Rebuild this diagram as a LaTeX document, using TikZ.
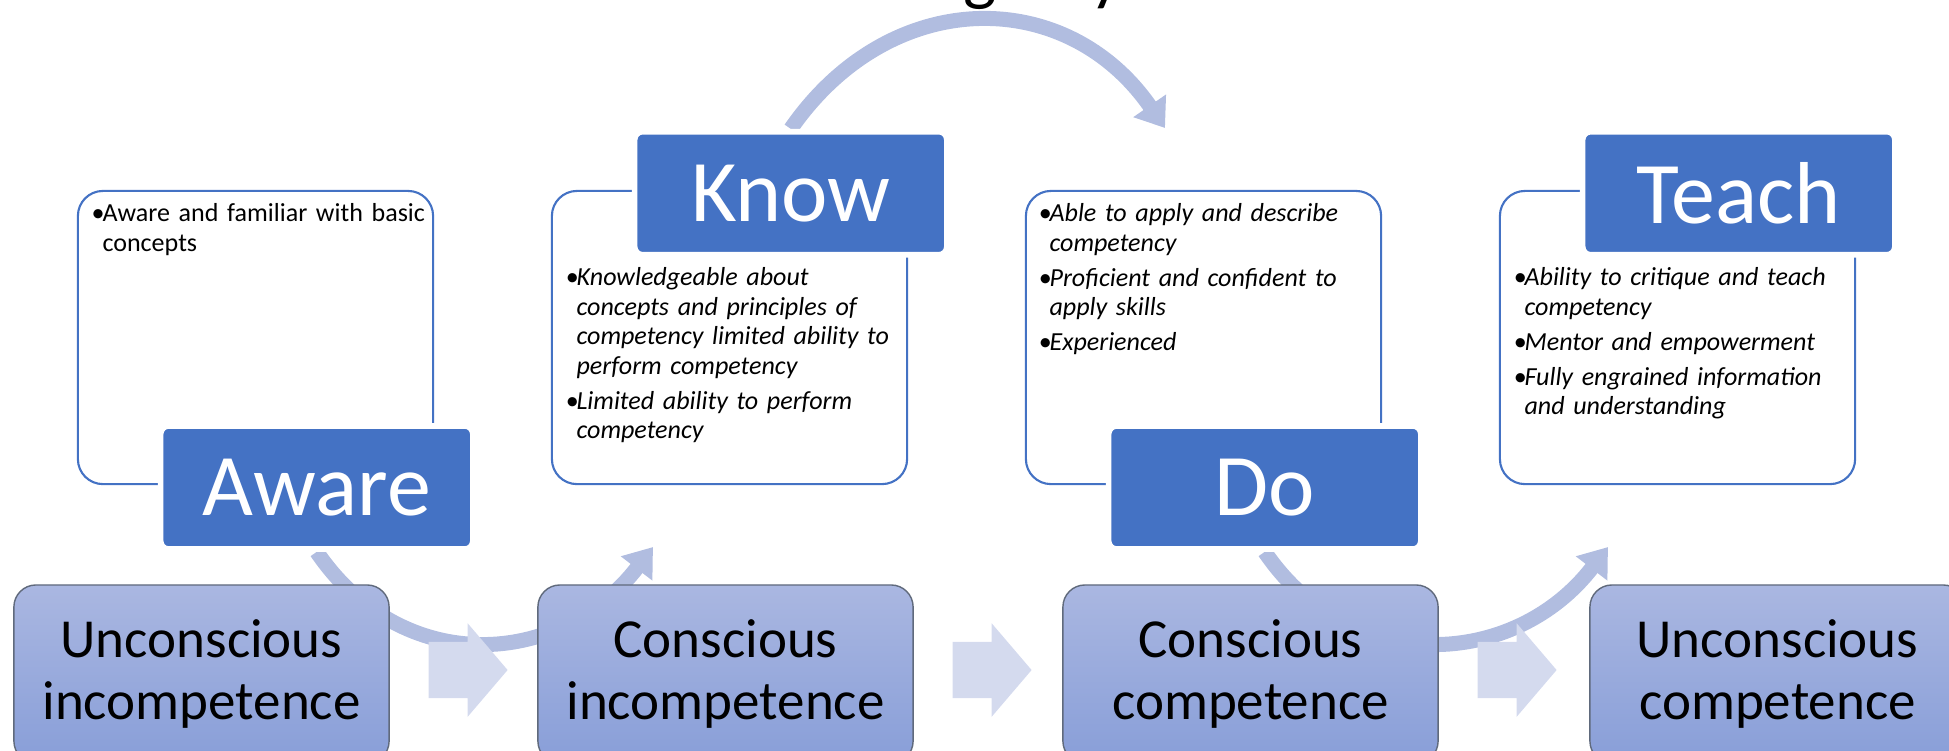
\documentclass[tikz,border=0pt]{standalone}
\usepackage{fontspec}
\setmainfont{Carlito}
\usetikzlibrary{positioning, calc, shapes.arrows, arrows.meta}

\definecolor{headblue}{HTML}{4472C4}
\definecolor{arcblue}{RGB}{177,189,224}
\definecolor{arrowpale}{RGB}{212,218,238}
\definecolor{stagetop}{RGB}{170,183,225}
\definecolor{stagebot}{RGB}{136,158,216}
\definecolor{stageline}{RGB}{96,106,124}

\pgfdeclarelayer{background}
\pgfsetlayers{background,main}

\newcommand\bulletitem[1]{\hangindent=0.11cm\hangafter=1\noindent\makebox[0.11cm][l]{\textbullet}#1\setlength\parskip{1.56pt}\par}

\begin{document}
\begin{tikzpicture}[x=0.01cm, y=-0.01cm]
  \tikzset{textbox/.style={draw=headblue, line width=0.6pt, rounded corners=0.25cm, minimum width=3.55cm, minimum height=2.93cm}}
  \tikzset{headbox/.style={fill=headblue, draw=white, line width=1.6pt, rounded corners=0.08cm, minimum width=3.12cm, minimum height=1.23cm, inner sep=0pt, text=white, font=\fontsize{25}{30}\selectfont}}
  \tikzset{bullettext/.style={anchor=base west, text width=3.7cm, inner sep=0pt, align=left, font=\fontsize{7.4}{8.39}\selectfont}}
  \tikzset{stagebox/.style={draw=stageline, line width=0.4pt, rounded corners=0.22cm, top color=stagetop, bottom color=stagebot, minimum width=3.75cm, minimum height=1.78cm, align=center, font=\fontsize{15.65}{17.64}\selectfont}}
  \tikzset{flowarc/.style={draw=arcblue, line width=0.15cm, -{Triangle[length=0.27cm, width=0.38cm]}}}
  \tikzset{blockarr/.style={single arrow, fill=arrowpale, inner xsep=0pt, inner ysep=0.275cm, minimum width=0.92cm, minimum height=0.79cm, single arrow head extend=0.185cm, single arrow tip angle=99}}
  \tikzset{titlefont/.style={inner sep=0pt, font=\fontsize{20}{24}\selectfont}}

  \useasboundingbox (0,0) rectangle (1949,750);
  \clip (0,0) rectangle (1949,750);

  % title, cut off at the top
  \node[titlefont, anchor=south] (ttlg) at (980,10) {g};
  \node[titlefont, anchor=south] (ttly) at (1106,10) {y};

  % text boxes
  \foreach \i/\x in {1/255.5, 2/729.5, 3/1203.5, 4/1677.5}{
    \node[textbox] (tb\i) at (\x, 337.5) {};
  }

  % headers
  \node[headbox, anchor=north west] (hd1) at ($(tb1.south west)+(81,-62)$) {Aware};
  \node[headbox, anchor=north west] (hd2) at ($(tb2.north west)+(81,-61)$) {Know};
  \node[headbox, anchor=north west] (hd3) at ($(tb3.south west)+(81,-62)$) {Do};
  \node[headbox, anchor=north west] (hd4) at ($(tb4.north west)+(81,-61)$) {Teach};

  % bullets
  \node[bullettext] (txt1) at ($(tb1.north west)+(14,32)$) {%
    \bulletitem{Aware and familiar with basic\newline concepts}};
  \node[bullettext, font=\fontsize{7.4}{8.39}\selectfont\itshape] (txt2) at ($(tb2.north west)+(14,96)$) {%
    \bulletitem{Knowledgeable about\newline concepts and principles of\newline competency limited ability to\newline perform competency}%
    \bulletitem{Limited ability to perform\newline competency}};
  \node[bullettext, font=\fontsize{7.4}{8.39}\selectfont\itshape] (txt3) at ($(tb3.north west)+(13,32)$) {%
    \bulletitem{Able to apply and describe\newline competency}%
    \bulletitem{Proficient and confident to\newline apply skills}%
    \bulletitem{Experienced}};
  \node[bullettext, font=\fontsize{7.4}{8.39}\selectfont\itshape] (txt4) at ($(tb4.north west)+(14,96)$) {%
    \bulletitem{Ability to critique and teach\newline competency}%
    \bulletitem{Mentor and empowerment}%
    \bulletitem{Fully engrained information\newline and understanding}};

  % stages
  \foreach \i/\x/\lbl in {1/201.5/Unconscious\\incompetence, 2/725.5/Conscious\\incompetence, 3/1250.5/Conscious\\competence, 4/1777.5/Unconscious\\competence}{
    \node[stagebox] (st\i) at (\x, 674) {\lbl};
  }
  \foreach \i in {1, 2, 3}{
    \node[blockarr, right=0.38cm of st\i, yshift=0.04cm] (ba\i) {};
  }

  % curved arrows behind everything
  \coordinate (arctip1) at (653,547);
  \coordinate (arctip2) at (1608,547);
  \coordinate (arctip3) at (1165,128);
  \begin{pgfonlayer}{background}
    \foreach \h/\t in {1/1, 3/2}{
      \draw[flowarc] (hd\h.south) .. controls +(86,126) and +(-93,121) .. (arctip\t);
    }
    \draw[flowarc] (hd2.north) .. controls +(99,-143) and +(-99,-143) .. (arctip3);
  \end{pgfonlayer}
\end{tikzpicture}
\end{document}
